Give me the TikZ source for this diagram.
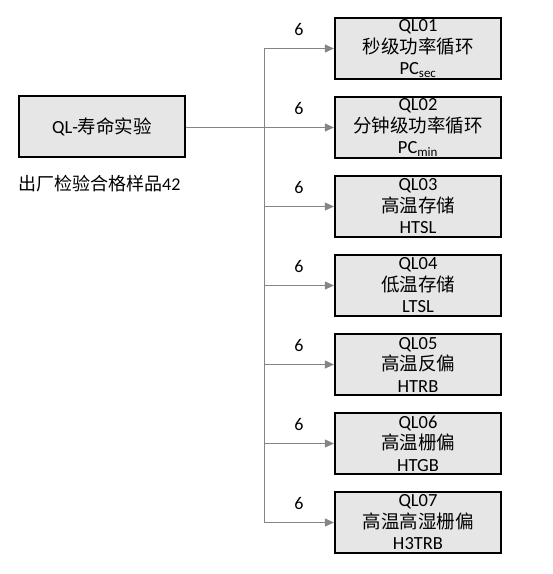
\documentclass[tikz,border=0pt]{standalone}
\usepackage{fontspec}
\setmainfont{Carlito}
\newfontfamily\cjk{Noto Sans CJK SC}
\usetikzlibrary{arrows.meta}
\definecolor{boxfill}{HTML}{E6E6E6}
\definecolor{linegray}{HTML}{858585}
\begin{document}
\begin{tikzpicture}[x=1pt,y=-1pt,
  box/.style={draw=black,line width=2.2pt,fill=boxfill,minimum width=166pt,minimum height=61pt,inner sep=0pt,align=center,font=\fontsize{18.5}{21.5}\selectfont},
  conn/.style={draw=linegray,line width=1pt},
  arr/.style={conn,-{Triangle[length=9pt,width=8pt,fill=linegray]}},
  num/.style={font=\fontsize{18}{20}\selectfont,inner sep=0pt}]
\useasboundingbox (0,0) rectangle (553,574);
\node[box] (L) at (102,126.5) {QL-{\cjk 寿命实验}};
\node[anchor=west,inner sep=0pt,font=\fontsize{18}{20}\selectfont] (note) at (18,184) {{\cjk 出厂检验合格样品}42};
\node[box] (R1) at (418,48.5) {QL01\\{\cjk 秒级功率循环}\\PC\textsubscript{sec}};
\node[box] (R2) at (418,127.5) {QL02\\{\cjk 分钟级功率循环}\\PC\textsubscript{min}};
\node[box] (R3) at (418,206.5) {QL03\\{\cjk 高温存储}\\HTSL};
\node[box] (R4) at (418,285.5) {QL04\\{\cjk 低温存储}\\LTSL};
\node[box] (R5) at (418,364.5) {QL05\\{\cjk 高温反偏}\\HTRB};
\node[box] (R6) at (418,443.5) {QL06\\{\cjk 高温栅偏}\\HTGB};
\node[box] (R7) at (418,522.5) {QL07\\{\cjk 高温高湿栅偏}\\H3TRB};
\coordinate (J) at (264,127.5);
\draw[conn] (J |- R1.west) -- (J |- R7.west);
\draw[arr] (L.east |- R2.west) -- (R2.west);
\foreach \i in {1,3,4,5,6,7}{
  \draw[arr] (J |- R\i.west) -- (R\i.west);
}
\foreach \i in {1,...,7}{
  \node[num] (n\i) at ([yshift=19pt,xshift=35pt]J |- R\i.west) {6};
}
\end{tikzpicture}
\end{document}
